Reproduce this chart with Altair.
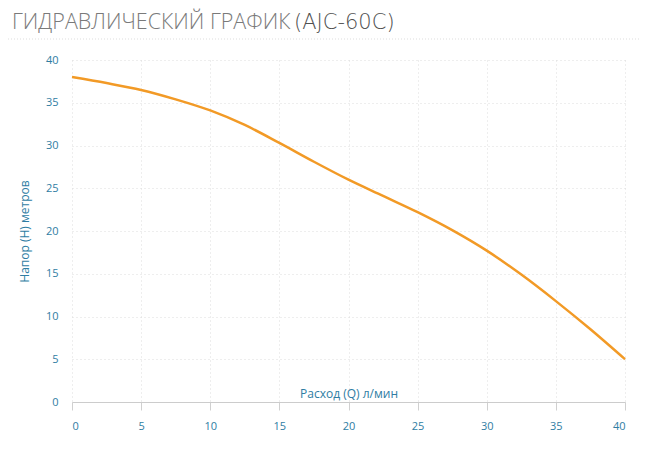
import altair as alt
import pandas as pd

flow = [0, 2.5, 5, 7.5, 10, 12.5, 15, 17.5, 20, 22.5, 25, 27.5, 30, 32.5, 35, 37.5, 40]
head = [38.0, 37.3, 36.5, 35.4, 34.1, 32.4, 30.3, 28.1, 26.0, 24.1, 22.2, 20.1, 17.7, 14.9, 11.8, 8.5, 5.0]

title_main = "ГИДРАВЛИЧЕСКИЙ ГРАФИК"
title_model = "(AJC-60C)"
x_title = "Расход (Q) л/мин"
y_title = "Напор (Н) метров"

df = pd.DataFrame({"q": flow, "h": head})
one = pd.DataFrame({"a": [0]})

LABEL = "#2f7da3"
FONT = "Open Sans"

x_enc = alt.X("q:Q", scale=alt.Scale(domain=[0, 40], nice=False),
              axis=alt.Axis(values=list(range(0, 41, 5)), title=x_title,
                            titleY=-14, titleFontWeight="normal", titleFontSize=12,
                            titleColor=LABEL, titleFont=FONT,
                            labelColor=LABEL, labelFont=FONT, labelFontSize=11,
                            labelPadding=10, tickSize=8, tickColor="#d0d0d0",
                            domainColor="#cccccc", grid=True, gridColor="#dddddd",
                            gridDash=[1, 3]))
y_enc = alt.Y("h:Q", scale=alt.Scale(domain=[0, 40], nice=False),
              axis=alt.Axis(values=list(range(0, 41, 5)), title=y_title,
                            titleFontWeight="normal", titleFontSize=12,
                            titleColor=LABEL, titleFont=FONT, titlePadding=14,
                            labelColor=LABEL, labelFont=FONT, labelFontSize=11,
                            labelPadding=14, ticks=False, domain=False,
                            grid=True, gridColor="#dddddd", gridDash=[1, 3]))

line = alt.Chart(df).mark_line(color="#f29a26", strokeWidth=2.5,
                               interpolate="monotone").encode(x=x_enc, y=y_enc)

sep = alt.Chart(one).mark_rule(color="#dddddd", strokeDash=[1, 2]).encode(
    x=alt.value(-64), x2=alt.value(568), y=alt.value(-21))

t1 = alt.Chart(one).mark_text(text=title_main, font=FONT, fontSize=21.5,
                              fontWeight=300, color="#7a7a7a", align="left",
                              baseline="middle").encode(
    x=alt.value(-60), y=alt.value(-37))
t2 = alt.Chart(one).mark_text(text=title_model, font="DejaVu Sans", fontSize=21,
                              fontWeight=200, color="#505050", align="left",
                              baseline="middle").encode(
    x=alt.value(222), y=alt.value(-37))

chart = alt.layer(sep, line, t1, t2).properties(
    width=553, height=342,
    autosize=alt.AutoSizeParams(type="none"),
    padding={"left": 64, "top": 52, "right": 20, "bottom": 40},
).configure_view(stroke=None)

chart.save("out.html", embed_options={"renderer": "svg", "actions": False})
